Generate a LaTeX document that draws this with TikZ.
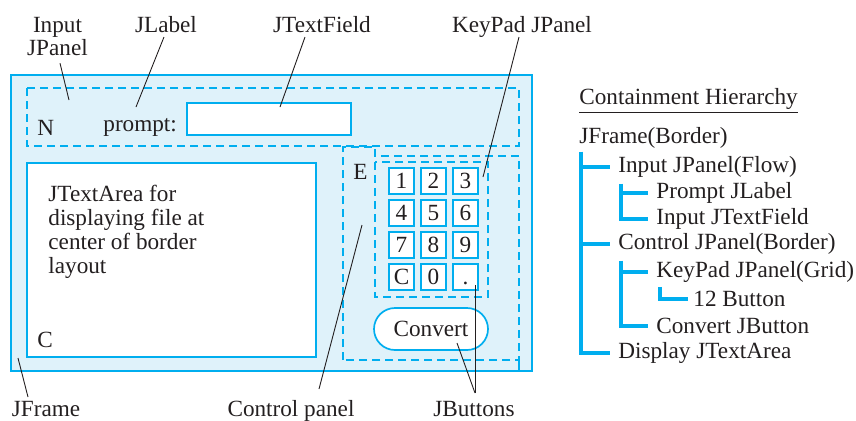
\documentclass[tikz,border=0pt]{standalone}
\usepackage{fontspec}
\setmainfont{Liberation Serif}
\usetikzlibrary{calc}
\definecolor{swcyan}{RGB}{0,174,239}
\definecolor{swfill}{RGB}{223,242,250}
\definecolor{swtext}{RGB}{35,31,32}
\tikzset{
  lbl/.style={inner sep=0pt, text=swtext, font=\fontsize{11.6}{11.5}\selectfont},
  panel/.style={draw=swcyan, line width=0.75pt, dash pattern=on 4pt off 2.5pt},
  widget/.style={draw=swcyan, fill=white, line width=0.85pt},
  keybtn/.style={widget, line width=1pt, minimum width=12.5pt, minimum height=13pt,
    inner sep=0pt, text height=7.8pt, text depth=0pt, text=swtext,
    font=\fontsize{11.6}{12}\selectfont},
  convbtn/.style={widget, rounded corners=10.5pt, minimum width=57pt, minimum height=21pt,
    inner sep=0pt, text height=7.8pt, text depth=0pt, text=swtext,
    font=\fontsize{11.6}{12}\selectfont},
  leader/.style={draw=swtext, line width=0.45pt},
  tree/.style={draw=swcyan, line width=1.6pt}
}

\begin{document}
\begin{tikzpicture}[x=0.5pt, y=-0.5pt]
  \useasboundingbox (0,0) rectangle (856,420);

  % --- JFrame and its panels ---
  \fill[swfill] (11,75) rectangle (532,371);
  \draw[swcyan, line width=0.9pt] (11,75) rectangle (532,371);
  \draw[swcyan, line width=0.75pt] (519,360) -- (519,371);

  \draw[panel] (27,88) rectangle (519,146);
  \draw[panel] (343,360) -- (343,147) -- (375,147) -- (375,156) -- (519,156) -- (519,360) -- cycle;
  \draw[panel] (375,162) rectangle (488,297);

  % --- widgets ---
  \draw[widget] (187,103) rectangle (351,135);
  \draw[widget] (27,163) rectangle (316,357);

  \foreach \k [count=\i from 0] in {1,2,3,4,5,6,7,8,9,C,0,.}{
    \pgfmathtruncatemacro{\col}{mod(\i,3)}
    \pgfmathtruncatemacro{\row}{\i/3}
    \node[keybtn] (key\i) at (401.5+32*\col, 181+32*\row) {\k};
  }
  \node[convbtn] (convert) at (431,329) {Convert};

  % --- texts inside the frame ---
  \node[lbl, anchor=base west] (northLbl) at (37,135) {N};
  \node[lbl, anchor=base west] (prompt) at (103,131) {prompt:};
  \node[lbl, anchor=base west] (eastLbl) at (353,179) {E};
  \node[lbl, anchor=base west] (centerLbl) at (37,347) {C};
  \node[lbl, anchor=north west, align=left, font=\fontsize{11.6}{12}\selectfont]
    (areaText) at (48,184.5) {JTextArea for\\displaying file at\\center of border\\layout};

  % --- callout labels ---
  \node[lbl, anchor=north, align=center] (lInput) at (57.5,17) {Input\\JPanel};
  \node[lbl, anchor=base] (lJLabel) at (166,32) {JLabel};
  \node[lbl, anchor=base] (lField) at (322,32) {JTextField};
  \node[lbl, anchor=base] (lKeyPad) at (522,32) {KeyPad JPanel};
  \node[lbl, anchor=base] (lJFrame) at (46,416) {JFrame};
  \node[lbl, anchor=base] (lControl) at (291,416) {Control panel};
  \node[lbl, anchor=base] (lButtons) at (474,416) {JButtons};

  \coordinate (tipInput) at (69,100);
  \coordinate (tipJLabel) at (136,107);
  \coordinate (tipField) at (280,107);
  \coordinate (tipKeyPad) at (483,177);
  \coordinate (tipJFrame) at (18,358);
  \coordinate (tipControl) at (362,225);
  \coordinate (tipDot) at (475,285);
  \coordinate (tipConvert) at (457,343);
  \coordinate (jbJoin) at ($(lButtons.base)+(1,-23)$);

  \draw[leader] ($(lInput.south)+(2.5,7)$) -- (tipInput);
  \draw[leader] ($(lJLabel.base)+(-2,5)$) -- (tipJLabel);
  \draw[leader] ($(lField.base)+(-17,5)$) -- (tipField);
  \draw[leader] ($(lKeyPad.base)+(-3,5)$) -- (tipKeyPad);
  \draw[leader] ($(lJFrame.base)+(-18,-19)$) -- (tipJFrame);
  \draw[leader] ($(lControl.base)+(28,-27)$) -- (tipControl);
  \draw[leader] (jbJoin) -- (tipDot);
  \draw[leader] (jbJoin) -- (tipConvert);

  % --- containment hierarchy ---
  \node[lbl, anchor=west] (hTitle) at (579,101) {\underline{Containment Hierarchy}};
  \node[lbl, anchor=west] (hFrame) at (579,138) {JFrame(Border)};
  \node[lbl, anchor=west] (hInput) at (618,167) {Input JPanel(Flow)};
  \node[lbl, anchor=west] (hPrompt) at (656,193) {Prompt JLabel};
  \node[lbl, anchor=west] (hField) at (656,219) {Input JTextField};
  \node[lbl, anchor=west] (hControl) at (618,244) {Control JPanel(Border)};
  \node[lbl, anchor=west] (hKeyPad) at (656,272) {KeyPad JPanel(Grid)};
  \node[lbl, anchor=west] (hBtn12) at (693,299) {12 Button};
  \node[lbl, anchor=west] (hConvert) at (656,326) {Convert JButton};
  \node[lbl, anchor=west] (hDisplay) at (618,353) {Display JTextArea};

  \foreach \child in {hInput,hControl,hDisplay}
    \draw[tree] ([xshift=1pt,yshift=-1.5pt]hFrame.south west) |- ([xshift=-4pt]\child.west);
  \foreach \child in {hPrompt,hField}
    \draw[tree] ([xshift=1.5pt,yshift=-3pt]hInput.south west) |- ([xshift=-4pt]\child.west);
  \foreach \child in {hKeyPad,hConvert}
    \draw[tree] ([xshift=1.5pt,yshift=-3pt]hControl.south west) |- ([xshift=-4pt]\child.west);
  \draw[tree] ([xshift=2pt,yshift=-2pt]hKeyPad.south west) |- ([xshift=-2.5pt]hBtn12.west);
\end{tikzpicture}
\end{document}
